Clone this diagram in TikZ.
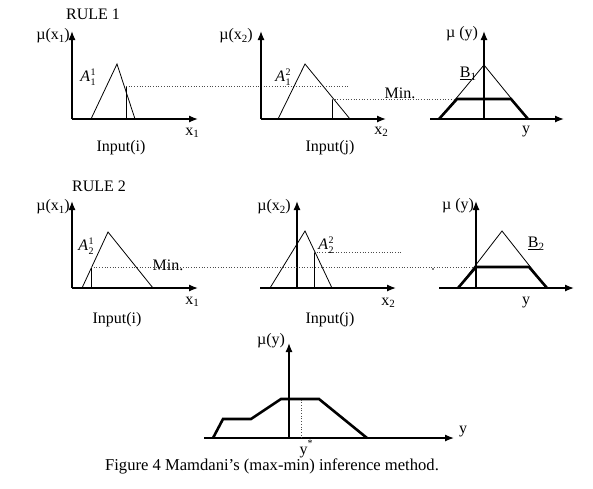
\documentclass[tikz,border=0pt]{standalone}
\usepackage{fontspec}
\setmainfont{Liberation Serif}
\usetikzlibrary{arrows.meta}
\newcommand{\mfA}[2]{\textit{A}\kern0.3pt\raisebox{-0.55ex}{\fontsize{10}{8}\selectfont\shortstack[l]{#2\\#1}}}
\newcommand{\subone}[1]{\raisebox{-0.35ex}{\fontsize{11}{11}\selectfont #1}}
\begin{document}
\begin{tikzpicture}[x=1pt,y=-1pt,
  axis/.style={line width=1.3pt,-{Latex[length=9pt,width=7pt]}},
  mf/.style={line width=0.8pt},
  cut/.style={line width=1pt},
  clip/.style={line width=2.6pt,line join=miter},
  guide/.style={dotted,line width=0.7pt,black!70},
  lbl/.style={inner sep=0pt,font=\fontsize{16}{18}\selectfont},
  every node/.style={lbl}]
\useasboundingbox (0,0) rectangle (593,488);

% ---------- RULE 1 ----------
\node (r1) at (93,14) {RULE 1};
% panel 1
\coordinate (o11) at (72,119);
\draw[axis] (o11) -- (72,31);
\draw[axis] (o11) -- (198,119);
\coordinate (a11l) at (91,119); \coordinate (a11t) at (117,64); \coordinate (a11r) at (135,119);
\draw[mf] (a11l) -- (a11t) -- (a11r);
\coordinate (in11) at (126,119); \coordinate (c11) at (126,86);
\draw[cut] (in11) -- (c11);
\coordinate (g11) at (348,86);
\draw[guide] (c11) -- (g11);
\node (mu11) at (53,36) {µ(x\subone{1})};
\node (A11) at (88,77) {\mfA{1}{1}};
\node (x11) at (192,133) {x\subone{1}};
\node (ii1) at (121,148) {Input(i)};
% panel 2
\coordinate (o12) at (261,119);
\draw[axis] (o12) -- (261,31);
\draw[axis] (o12) -- (386,119);
\coordinate (a12l) at (278,119); \coordinate (a12t) at (305,64); \coordinate (a12r) at (350,119);
\draw[mf] (a12l) -- (a12t) -- (a12r);
\coordinate (in12) at (332,119); \coordinate (c12) at (332,99);
\draw[cut] (in12) -- (c12);
\node (mu12) at (236,36) {µ(x\subone{2})};
\node (A12) at (283,77) {\mfA{1}{2}};
\node (x12) at (381,132) {x\subone{2}};
\node (ij1) at (330,148) {Input(j)};
\node (min1) at (400,93) {Min.};
% panel 3
\coordinate (o13) at (484,119);
\draw[axis] (484,119) -- (484,31);
\draw[axis] (430,119) -- (564,119);
\coordinate (b1l) at (439,119); \coordinate (b1t) at (484,65); \coordinate (b1r) at (528,119);
\draw[mf] (b1l) -- (b1t) -- (b1r);
\coordinate (t1l) at (457,99); \coordinate (t1r) at (511,99);
\draw[guide] (c12) -- (t1l);
\draw[clip] (b1l) -- (t1l) -- (t1r) -- (b1r);
\node (mu13) at (462,34) {µ (y)};
\node (B1) at (468,74) {\underline{B}\subone{1}};
\node (y13) at (526,132) {y};

% ---------- RULE 2 ----------
\node (r2) at (99,186) {RULE 2};
% panel 1
\coordinate (o21) at (72,288);
\draw[axis] (o21) -- (72,201);
\draw[axis] (o21) -- (198,288);
\coordinate (a21l) at (82,288); \coordinate (a21t) at (108,232); \coordinate (a21r) at (153,288);
\draw[mf] (a21l) -- (a21t) -- (a21r);
\coordinate (in21) at (91,288); \coordinate (c21) at (91,267);
\draw[cut] (in21) -- (c21);
\node (mu21) at (53,207) {µ(x\subone{1})};
\node (A21) at (86,246) {\mfA{2}{1}};
\node (x21) at (192,302) {x\subone{1}};
\node (ii2) at (117,320) {Input(i)};
% panel 2
\coordinate (o22) at (297,288);
\draw[axis] (o22) -- (297,201);
\draw[axis] (260,288) -- (396,288);
\coordinate (a22l) at (270,288); \coordinate (a22t) at (305,231); \coordinate (a22r) at (332,288);
\draw[mf] (a22l) -- (a22t) -- (a22r);
\coordinate (in22) at (314,288); \coordinate (c22) at (314,252);
\draw[cut] (in22) -- (c22);
\coordinate (g22) at (403,252);
\draw[guide] (c22) -- (g22);
\node (mu22) at (274,207) {µ(x\subone{2})};
\node (A22) at (326,245) {\mfA{2}{2}};
\node (x22) at (388,303) {x\subone{2}};
\node (ij2) at (330,320) {Input(j)};
% panel 3
\draw[axis] (476,288) -- (476,201);
\draw[axis] (439,288) -- (574,288);
\coordinate (b2l) at (458,288); \coordinate (b2t) at (502,231); \coordinate (b2r) at (547,288);
\draw[mf] (b2l) -- (b2t) -- (b2r);
\coordinate (t2l) at (476,267); \coordinate (t2r) at (529,267);
\draw[guide] (c21) -- (t2l);
\node (min2) at (168,265) {Min.};
\draw[clip] (b2l) -- (t2l) -- (t2r) -- (b2r);
\node (mu23) at (458,206) {µ (y)};
\node (B2) at (536,244) {\underline{B}\subone{2}};
\node (y23) at (526,303) {y};
\fill (433,269) circle (0.8pt);

% ---------- aggregated output ----------
\draw[axis] (289,438) -- (289,343);
\draw[axis] (204,438) -- (454,438);
\coordinate (s1) at (213,438); \coordinate (s2) at (223,419); \coordinate (s3) at (251,419);
\coordinate (s4) at (281,399); \coordinate (s5) at (319,399); \coordinate (s6) at (367,438);
\draw[clip] (s1) -- (s2) -- (s3) -- (s4) -- (s5) -- (s6);
\coordinate (ys) at (301,438); \coordinate (yt) at (301,399);
\draw[guide] (ys) -- (yt);
\node (muo) at (271,341) {µ(y)};
\node (yo) at (463,432) {y};
\node (ystar) at (306,449) {y\raisebox{1.2ex}{\fontsize{10}{10}\selectfont *}};
\node[font=\fontsize{16.6}{18}\selectfont] (cap) at (272,466) {Figure 4 Mamdani’s (max-min) inference method.};
\end{tikzpicture}
\end{document}
